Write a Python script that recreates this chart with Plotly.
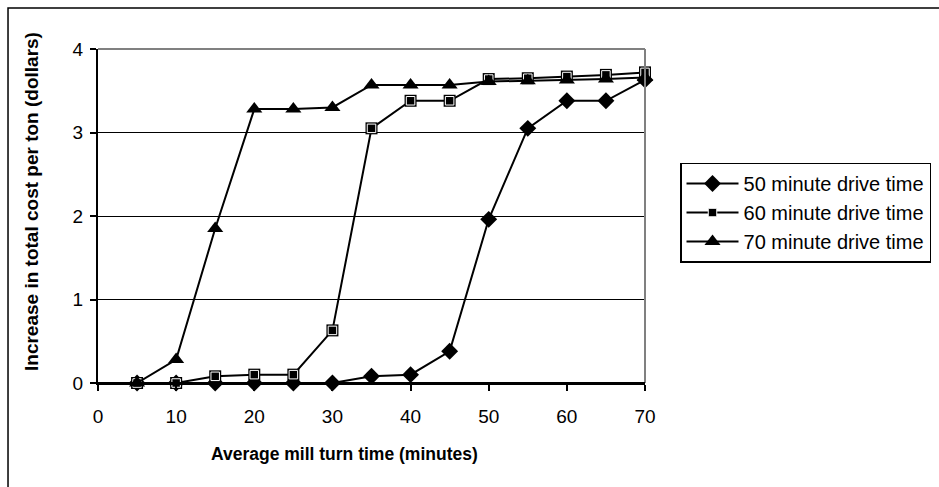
import plotly.graph_objects as go

# Average mill turn time (minutes)
turn_time = [5, 10, 15, 20, 25, 30, 35, 40, 45, 50, 55, 60, 65, 70]

# Increase in total cost per ton (dollars) by drive time
drive_50 = [0, 0, 0, 0, 0, 0, 0.08, 0.10, 0.38, 1.96, 3.05, 3.38, 3.38, 3.63]
drive_60 = [0, 0, 0.08, 0.10, 0.10, 0.63, 3.05, 3.38, 3.38, 3.64, 3.65, 3.67, 3.69, 3.72]
drive_70 = [0, 0.28, 1.85, 3.28, 3.28, 3.30, 3.57, 3.57, 3.57, 3.61, 3.62, 3.63, 3.64, 3.66]

series_names = ["50 minute drive time", "60 minute drive time", "70 minute drive time"]
x_ticks = [0, 10, 20, 30, 40, 50, 60, 70]
y_ticks = [0, 1, 2, 3, 4]
x_title = "Average mill turn time (minutes)"
y_title = "Increase in total cost per ton (dollars)"

FONT = "Liberation Sans, Arial, sans-serif"

fig = go.Figure()

fig.add_trace(go.Scatter(
    x=turn_time, y=drive_50, name=series_names[0], mode="lines+markers",
    line=dict(color="black", width=2),
    marker=dict(symbol="diamond", size=13, color="black"),
    cliponaxis=False,
))
# outer outline of the square markers
fig.add_trace(go.Scatter(
    x=turn_time, y=drive_60, mode="markers", showlegend=False, hoverinfo="skip",
    marker=dict(symbol="square", size=12, color="black"),
    cliponaxis=False,
))
fig.add_trace(go.Scatter(
    x=turn_time, y=drive_60, name=series_names[1], mode="lines+markers",
    line=dict(color="black", width=2),
    marker=dict(symbol="square", size=8.5, color="black", line=dict(color="white", width=1)),
    cliponaxis=False,
))
fig.add_trace(go.Scatter(
    x=turn_time, y=drive_70, name=series_names[2], mode="lines+markers",
    line=dict(color="black", width=2),
    marker=dict(symbol="triangle-up", size=14, color="black"),
    cliponaxis=False,
))

fig.update_layout(
    width=939, height=487,
    margin=dict(l=98, r=294, t=49, b=104, autoexpand=False),
    paper_bgcolor="white", plot_bgcolor="white",
    font=dict(family=FONT, size=19, color="black"),
    legend=dict(
        x=1.064, y=0.66, xanchor="left", yanchor="top",
        bordercolor="black", borderwidth=1.5,
        font=dict(family=FONT, size=20, color="black"),
        tracegroupgap=0, itemwidth=52,
    ),
    showlegend=True,
)

fig.update_xaxes(
    range=[0, 70], tickvals=x_ticks, ticktext=[str(v) for v in x_ticks],
    showgrid=False, zeroline=False,
    showline=True, linecolor="black", linewidth=2,
    ticks="outside", ticklen=6, tickwidth=1.5, tickcolor="black",
    ticklabelstandoff=9,
    tickfont=dict(family=FONT, size=19),
)
fig.update_yaxes(
    range=[0, 4], tickvals=y_ticks, ticktext=[str(v) for v in y_ticks],
    showgrid=True, gridcolor="black", gridwidth=1, zeroline=False,
    showline=True, linecolor="black", linewidth=2,
    ticks="outside", ticklen=6, tickwidth=1.5, tickcolor="black",
    ticklabelstandoff=3,
    tickfont=dict(family=FONT, size=19),
)

# axis titles
fig.add_annotation(
    text=f"<b>{x_title}</b>", xref="paper", yref="paper", x=0.4506, y=0,
    xanchor="center", yanchor="middle", yshift=-71, showarrow=False,
    font=dict(family=FONT, size=17.5, color="black"),
)
fig.add_annotation(
    text=f"<b>{y_title}</b>", xref="paper", yref="paper", x=0, y=0.542,
    xanchor="center", yanchor="middle", xshift=-66, textangle=-90, showarrow=False,
    font=dict(family=FONT, size=19, color="black"),
)

# grey frame on top and right of the plot area
fig.add_shape(type="line", xref="paper", yref="paper", x0=0, x1=1, y0=1, y1=1,
              line=dict(color="#808080", width=2))
fig.add_shape(type="line", xref="paper", yref="paper", x0=1, x1=1, y0=0, y1=1,
              line=dict(color="#808080", width=2))
# x-axis baseline redrawn over the grey frame
fig.add_shape(type="line", xref="paper", yref="paper", x0=0, x1=1, y0=0, y1=0,
              line=dict(color="black", width=2))

# outer chart border
fig.add_shape(type="rect", xref="paper", yref="paper",
              x0=-0.1645, x1=1.6, y0=-0.5, y1=1.1228,
              line=dict(color="black", width=1.5), layer="below")

fig.write_html("out.html")
